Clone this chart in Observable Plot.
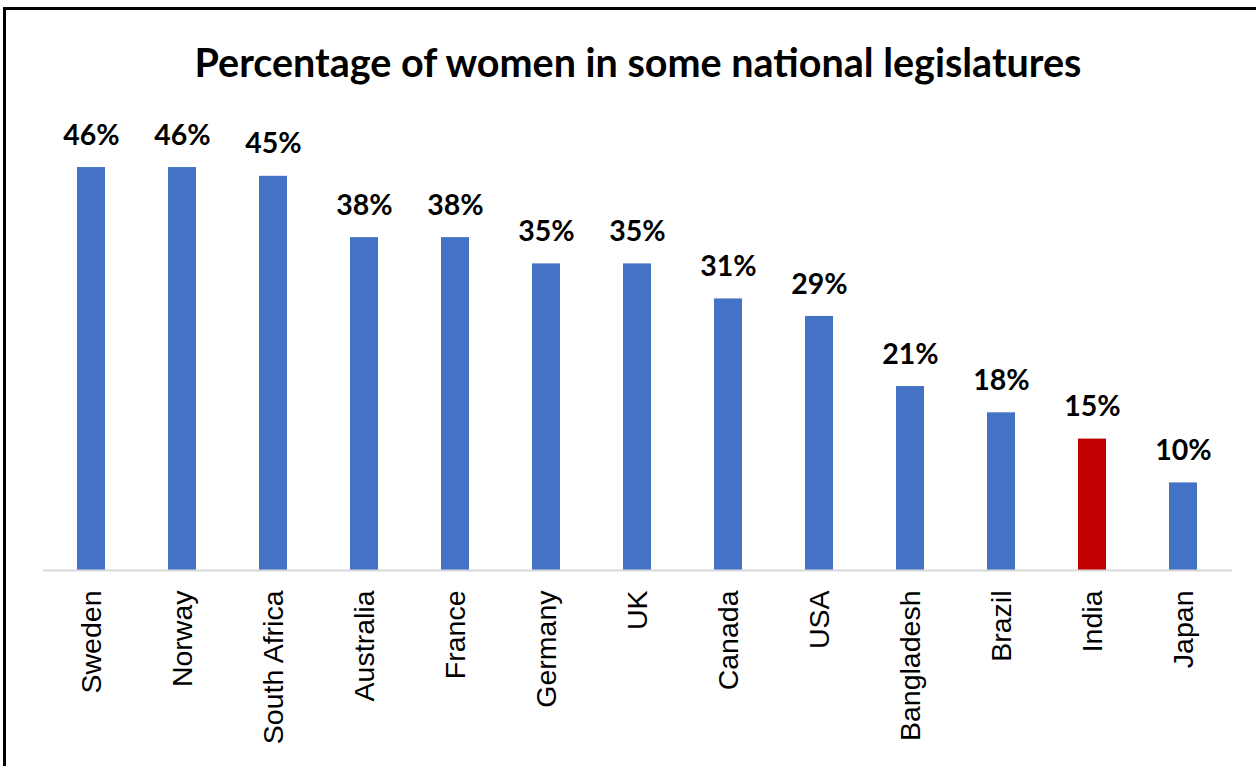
<!DOCTYPE html>
<html>
<head>
<meta charset="utf-8">
<script src="https://cdn.jsdelivr.net/npm/d3@7"></script>
<script src="https://cdn.jsdelivr.net/npm/@observablehq/plot@0.6"></script>
<style>
  html, body { margin: 0; padding: 0; background: #fff; }
  #wrap { position: relative; width: 1256px; height: 766px; overflow: hidden; background: #fff; }
  #frame { position: absolute; left: 3px; top: 7px; width: 1300px; height: 800px;
           border-left: 3px solid #000; border-top: 3px solid #000; box-sizing: border-box; }
  #title { position: absolute; left: 0; top: 38px; width: 1276px; text-align: center;
           font-family: Lato, "Open Sans", sans-serif; font-weight: bold; font-size: 39.5px; color: #000; }
  #chart { position: absolute; left: 0; top: 0; }
</style>
</head>
<body>
<div id="wrap">
  <div id="frame"></div>
  <div id="title">Percentage of women in some national legislatures</div>
  <div id="chart"></div>
</div>
<script>
const countries = ["Sweden", "Norway", "South Africa", "Australia", "France", "Germany", "UK", "Canada", "USA", "Bangladesh", "Brazil", "India", "Japan"];
const percentages = [46, 46, 45, 38, 38, 35, 35, 31, 29, 21, 18, 15, 10];
const highlighted = ["India"];

const data = countries.map((c, i) => ({country: c, value: percentages[i], hi: highlighted.includes(c)}));

const chart = Plot.plot({
  width: 1256,
  height: 766,
  marginLeft: 43,
  marginRight: 24,
  marginTop: 132,
  marginBottom: 196,
  style: {background: "transparent", overflow: "visible"},
  x: {domain: countries, paddingInner: 0.69, paddingOuter: 0.345, label: null},
  y: {domain: [0, 50], axis: null},
  marks: [
    Plot.barY(data, {x: "country", y: "value", fill: d => d.hi ? "#C00000" : "#4472C4"}),
    Plot.ruleY([0], {stroke: "#d9d9d9", strokeWidth: 2}),
    Plot.text(data, {x: "country", y: "value", text: d => d.value + "%", dy: -32,
      fontSize: 28.5, fontWeight: "bold", fontFamily: "Lato, 'Open Sans', sans-serif", fill: "#000"}),
    Plot.axisX({tickRotate: -90, tickSize: 0, tickPadding: 20, fontSize: 28.5,
      fontFamily: "'Liberation Sans', Arial, sans-serif", color: "#000", label: null})
  ]
});
document.getElementById("chart").appendChild(chart);
</script>
</body>
</html>
